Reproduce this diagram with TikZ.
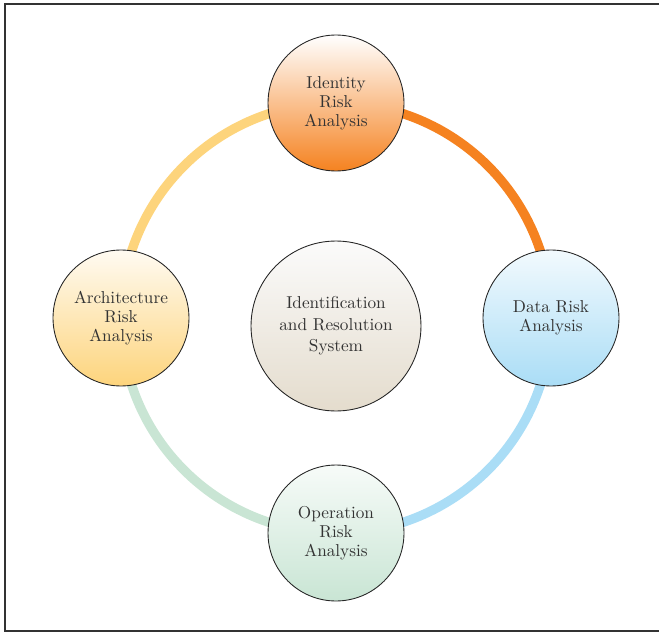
\documentclass[tikz,border=0pt]{standalone}
\usepackage{tikz}
\usetikzlibrary{calc}
\definecolor{ringorange}{HTML}{F58220}
\definecolor{ringblue}{HTML}{AADDF6}
\definecolor{ringgreen}{HTML}{C9E5D4}
\definecolor{ringyellow}{HTML}{FDD47C}
\definecolor{txtgray}{HTML}{333333}
\begin{document}
\begin{tikzpicture}[x=0.02cm,y=0.02cm,
                    riskcircle/.style={circle,draw=black!85,line width=0.5pt,minimum size=2.72cm,inner sep=0pt,
                                       align=center,text=txtgray,font=\fontsize{9.8}{10.8}\selectfont},
                    ringline/.style={line width=5.3pt}]
                                     \useasboundingbox (0,0) rectangle (659,633);
                                     \draw[black!80,line width=0.6pt] (659,629) -- (5,629) -- (5,2) -- (659,2);
                                     \node[riskcircle,minimum size=3.4cm,font=\fontsize{9.8}{12.2}\selectfont,top color=white!60!gray!8,bottom color={rgb,255:red,228;green,220;blue,205}](sys)at(336,307){Identification\\and Resolution\\System};
                                     \coordinate (ring) at (336,315);
                                     \coordinate (idpos) at (336,530);
                                     \coordinate (datapos) at (551,315);
                                     \coordinate (oppos) at (336,100);
                                     \coordinate (archpos) at (121,315);
                                     \draw[ringline,ringorange] (idpos) arc[start angle=90,end angle=0,radius=215];
                                     \draw[ringline,ringblue] (datapos) arc[start angle=0,end angle=-90,radius=215];
                                     \draw[ringline,ringgreen] (oppos) arc[start angle=270,end angle=180,radius=215];
                                     \draw[ringline,ringyellow] (archpos) arc[start angle=180,end angle=90,radius=215];
                                     \node[riskcircle,top color=white,bottom color=ringorange](id)at(idpos){Identity\\Risk\\Analysis};
                                     \node[riskcircle,top color=ringblue!15,bottom color=ringblue](data)at(datapos){Data Risk\\Analysis};
                                     \node[riskcircle,top color=ringgreen!15,bottom color=ringgreen](op)at(oppos){Operation\\Risk\\Analysis};
                                     \node[riskcircle,top color=ringyellow!10,bottom color=ringyellow](arch)at(archpos){Architecture\\Risk\\Analysis};
                                 \end{tikzpicture}
\end{document}
